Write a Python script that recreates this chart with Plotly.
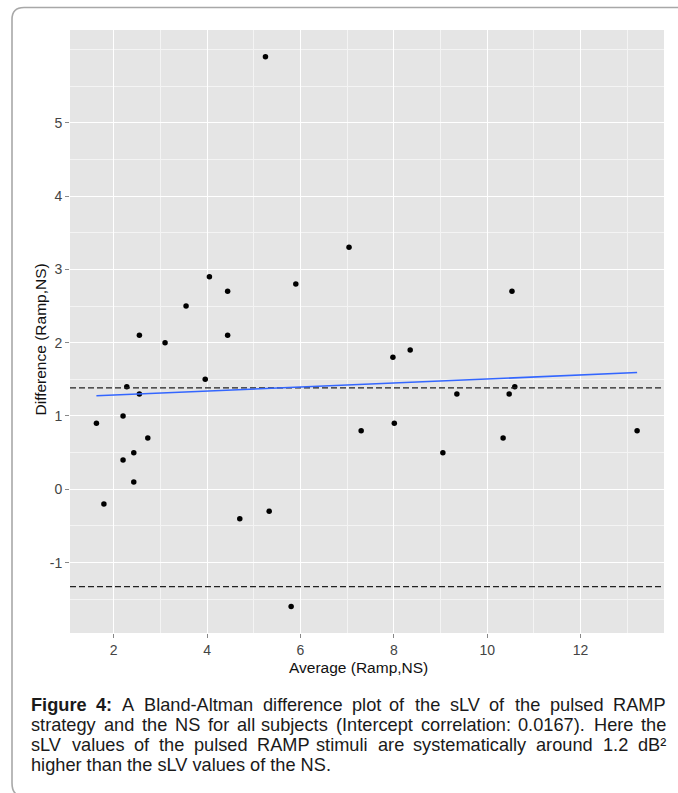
import numpy as np
import plotly.graph_objects as go

# ---------------- data ----------------
average_ramp_ns = [1.63, 1.79, 2.20, 2.28, 2.20, 2.43, 2.43, 2.55, 2.55, 2.73,
                   3.10, 3.96, 4.44, 4.70, 5.33, 5.80, 5.25, 4.05, 4.44, 3.55,
                   5.90, 7.04, 10.53, 7.98, 8.35, 7.30, 8.01, 9.05, 9.35, 10.47,
                   10.59, 10.34, 13.21]
difference_ramp_ns = [0.9, -0.2, 1.0, 1.4, 0.4, 0.5, 0.1, 2.1, 1.3, 0.7,
                      2.0, 1.5, 2.1, -0.4, -0.3, -1.6, 5.9, 2.9, 2.7, 2.5,
                      2.8, 3.3, 2.7, 1.8, 1.9, 0.8, 0.9, 0.5, 1.3, 1.3,
                      1.4, 0.7, 0.8]

x_ticks = [2, 4, 6, 8, 10, 12]
x_minor = [3, 5, 7, 9, 11, 13]
y_ticks = [-1, 0, 1, 2, 3, 4, 5]
y_tick_labels = ["-1", "0", "1", "2", "3", "4", "5"]
y_minor = [-1.5, -0.5, 0.5, 1.5, 2.5, 3.5, 4.5, 5.5, 6.0]

x_title = "Average (Ramp,NS)"
y_title = "Difference (Ramp,NS)"

caption_lines = [
    [("Figure", True), ("4:", True), ("A", False), ("Bland-Altman", False), ("difference", False),
     ("plot", False), ("of", False), ("the", False), ("sLV", False), ("of", False), ("the", False),
     ("pulsed", False), ("RAMP", False)],
    [(w, False) for w in "strategy and the NS for all subjects (Intercept correlation: 0.0167). Here the".split()],
    [(w, False) for w in "sLV values of the pulsed RAMP stimuli are systematically around 1.2 dB²".split()],
    [(w, False) for w in "higher than the sLV values of the NS.".split()],
]

# ---------------- derived statistics ----------------
avg = np.array(average_ramp_ns)
dif = np.array(difference_ramp_ns)
mean_diff = dif.mean()
sd_diff = dif.std(ddof=1)
lower_limit = mean_diff - 2 * sd_diff
slope, intercept = np.polyfit(avg, dif, 1)
fit_x = np.array([avg.min(), avg.max()])
fit_y = intercept + slope * fit_x

# ---------------- layout geometry ----------------
W, H = 678, 793
ML, MR, MT, MB = 70, 14, 30, 160
PW, PH = W - ML - MR, H - MT - MB


def px(x):
    return (x - ML) / PW


def py(y):
    return (H - MB - y) / PH


fig = go.Figure()
fig.add_trace(go.Scatter(x=avg, y=dif, mode="markers",
                         marker=dict(color="black", size=5.5), showlegend=False,
                         hoverinfo="skip"))

for yv in (mean_diff, lower_limit):
    fig.add_shape(type="line", xref="x domain", yref="y", x0=0, x1=1, y0=yv, y1=yv,
                  line=dict(color="#222222", width=1.3, dash="6px,3px"))

fig.add_shape(type="line", xref="x", yref="y", x0=fit_x[0], x1=fit_x[1],
              y0=fit_y[0], y1=fit_y[1], line=dict(color="#3366FF", width=1.6))

axis_common = dict(showline=False, zeroline=False, ticks="outside", ticklen=4,
                   tickwidth=1, tickcolor="#888888", gridcolor="white", gridwidth=1.2,
                   tickfont=dict(family="Liberation Sans, Arial", size=14, color="#444444"))

fig.update_xaxes(range=[1.064, 13.786], tickvals=x_ticks,
                 minor=dict(tickvals=x_minor, showgrid=True, gridcolor="#F4F4F4", gridwidth=0.8),
                 **axis_common)
fig.update_yaxes(range=[-1.96, 6.265], tickvals=y_ticks, ticktext=y_tick_labels,
                 minor=dict(tickvals=y_minor, showgrid=True, gridcolor="#F4F4F4", gridwidth=0.8),
                 **axis_common)

annotations = []
annotations.append(dict(text=x_title, x=px(358), y=py(667), xref="paper", yref="paper",
                        showarrow=False, xanchor="center", yanchor="middle",
                        font=dict(family="Liberation Sans, Arial", size=15.5, color="#111111")))
annotations.append(dict(text=y_title, x=px(39.5), y=py(340), xref="paper", yref="paper",
                        showarrow=False, xanchor="center", yanchor="middle", textangle=-90,
                        font=dict(family="Liberation Sans, Arial", size=15.5, color="#111111")))

# Arial / Liberation Sans glyph widths (1/1000 em)
REG = {" ": 278, "(": 333, ")": 333, ",": 278, "-": 333, ".": 278, ":": 278, "²": 333,
       "A": 667, "B": 667, "C": 722, "D": 722, "E": 667, "F": 611, "G": 778, "H": 722,
       "I": 278, "J": 500, "K": 667, "L": 556, "M": 833, "N": 722, "O": 778, "P": 667,
       "Q": 778, "R": 722, "S": 667, "T": 611, "U": 722, "V": 667, "W": 944, "X": 667,
       "Y": 667, "Z": 611,
       "a": 556, "b": 556, "c": 500, "d": 556, "e": 556, "f": 278, "g": 556, "h": 556,
       "i": 222, "j": 222, "k": 500, "l": 222, "m": 833, "n": 556, "o": 556, "p": 556,
       "q": 556, "r": 333, "s": 500, "t": 278, "u": 556, "v": 500, "w": 722, "x": 500,
       "y": 500, "z": 500}
for d in "0123456789":
    REG[d] = 556
BOLD = {"F": 611, "i": 278, "g": 611, "u": 611, "r": 389, "e": 556, "4": 556, ":": 333}

CAP_FS = 18.2
CAP_LEFT, CAP_RIGHT = 30, 667
cap_y = [705, 725, 745, 765]


def word_width(w, bold):
    tbl = BOLD if bold else REG
    return sum(tbl.get(c, REG.get(c, 556)) for c in w) * CAP_FS / 1000.0


def cap_ann(txt, x, y, anchor):
    return dict(text=txt, x=px(x), y=py(y), xref="paper", yref="paper",
                showarrow=False, xanchor=anchor, yanchor="middle", borderpad=0,
                font=dict(family="Liberation Sans, Arial", size=CAP_FS, color="#1a1a1a"))


for li, words in enumerate(caption_lines):
    justified = li < len(caption_lines) - 1
    widths = [word_width(w, b) for w, b in words]
    texts = [f"<b>{w}</b>" if b else w for w, b in words]
    if justified:
        n = len(words)
        gap = (CAP_RIGHT - CAP_LEFT - sum(widths)) / (n - 1)
        half = n // 2
        # first half anchored from the left edge
        xcur = CAP_LEFT
        for i in range(half):
            annotations.append(cap_ann(texts[i], xcur, cap_y[li], "left"))
            xcur += widths[i] + gap
        # second half anchored from the right edge
        xcur = CAP_RIGHT
        for i in range(n - 1, half - 1, -1):
            annotations.append(cap_ann(texts[i], xcur, cap_y[li], "right"))
            xcur -= widths[i] + gap
    else:
        gap = REG[" "] * CAP_FS / 1000.0
        annotations.append(cap_ann(" ".join(texts), CAP_LEFT, cap_y[li], "left"))


def P(x, y):
    return f"{px(x):.5f},{py(y):.5f}"


# page frame (rounded, open on right and bottom)
frame = (f"M {P(678, 7.5)} L {P(24, 7.5)} Q {P(12, 7.5)} {P(12, 19.5)} "
         f"L {P(12, 783)} Q {P(12, 791)} {P(16, 794)}")
fig.add_shape(type="path", path=frame, xref="paper", yref="paper",
              line=dict(color="#A8A8A8", width=1.6))

fig.update_layout(width=W, height=H, margin=dict(l=ML, r=MR, t=MT, b=MB, pad=0),
                  plot_bgcolor="#E5E5E5", paper_bgcolor="white",
                  annotations=annotations, showlegend=False,
                  font=dict(family="Liberation Sans, Arial"))

fig.write_html("out.html")
